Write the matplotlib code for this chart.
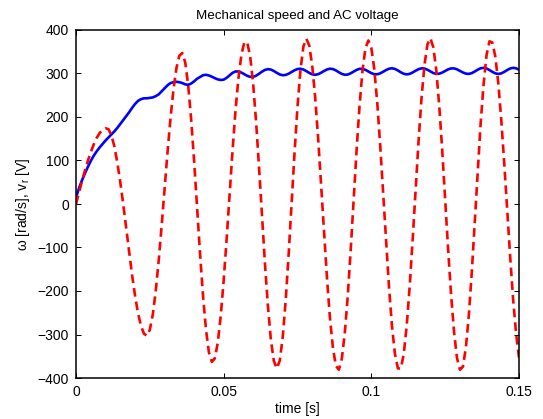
import numpy as np
import matplotlib
matplotlib.use("Agg")
import matplotlib.pyplot as plt

# time axis [s], 1 ms step
t_start, t_stop, t_step = 0.0, 0.150, 0.001

# mechanical speed omega [rad/s] (blue, solid)
speed = [15, 36, 54, 70, 85, 99, 111, 121, 130, 138,
         146, 153, 160, 167, 175, 184, 193, 202, 211, 221,
         230, 237, 241, 243, 243, 244, 245, 248, 252, 259,
         266, 273, 278, 280, 281, 280, 278, 275, 274, 277,
         282, 288, 292, 296, 297, 295.5, 292.7, 289.3, 286.5, 285.1,
         285.9, 290, 295.9, 301.5, 304.7, 304.6, 302.1, 298.3, 294.6, 292.3,
         292.4, 295, 299.5, 304.4, 308.3, 310, 309, 305.7, 301.5, 297.8,
         296, 296.7, 299.5, 303.5, 307.5, 310.3, 310.9, 309.2, 305.5, 301.3,
         298.1, 297, 298.4, 301.8, 305.8, 309.3, 311, 310.2, 307.1, 302.9,
         299.1, 297.1, 297.6, 300.4, 304.4, 308.3, 310.7, 310.7, 308.4, 304.7,
         300.9, 298.4, 298.2, 300.3, 304, 308, 311, 312, 310.5, 306.9,
         302.7, 299.3, 298, 299.2, 302.4, 306.4, 310, 311.9, 311.4, 308.6,
         304.7, 301, 299.1, 299.6, 302.1, 305.9, 309.5, 311.7, 311.7, 309.6,
         306.1, 302.4, 299.7, 299.1, 300.8, 304.5, 308.7, 312, 313, 311.5,
         307.9, 303.7, 300.3, 299, 300.3, 303.7, 307.9, 311.5, 313, 312,
         308.7]

# AC voltage v_r [V] (red, dashed)
voltage = [0, 26, 52, 76, 99, 119, 137, 152, 163, 170,
           174, 172, 158, 132, 95, 50, -1, -56, -111, -164,
           -211, -251, -280, -298, -303, -289, -254, -200, -130, -50,
           35, 120, 197, 263, 312, 341, 347, 325, 272, 194,
           98, -8, -114, -210, -288, -341, -363, -355, -319, -258,
           -176, -81, 21, 122, 214, 289, 343, 372, 371, 338,
           275, 187, 82, -30, -139, -236, -313, -361, -378, -360,
           -306, -222, -116, 1, 118, 224, 308, 362, 380, 364,
           317, 244, 150, 43, -67, -172, -263, -331, -372, -381,
           -356, -298, -213, -107, 9, 123, 225, 306, 358, 376,
           359, 310, 233, 135, 25, -87, -193, -281, -345, -378,
           -378, -344, -278, -188, -81, 34, 146, 244, 320, 367,
           381, 360, 307, 225, 124, 11, -104, -208, -294, -354,
           -381, -374, -331, -257, -158, -44, 73, 184, 275, 342,
           374, 371, 338, 277, 193, 94, -14, -120, -218, -297,
           -353]

x_ticks = [0, 0.05, 0.1, 0.15]
x_tick_labels = ["0", "0.05", "0.1", "0.15"]
y_ticks = [-400, -300, -200, -100, 0, 100, 200, 300, 400]

title_text = "Mechanical speed and AC voltage"
x_label = "time [s]"
y_label = "ω [rad/s], v$_\\mathregular{r}$ [V]"

plt.rcParams["font.family"] = ["Liberation Sans", "DejaVu Sans"]
plt.rcParams["mathtext.fontset"] = "custom"
plt.rcParams["mathtext.rm"] = "Liberation Sans"
plt.rcParams["mathtext.it"] = "Liberation Sans:italic"

t = np.arange(len(speed)) * t_step + t_start

fig = plt.figure(figsize=(5.43, 4.19), dpi=100)
ax = fig.add_axes([76 / 543, 1 - 378 / 419, (519 - 76) / 543, (378 - 30) / 419])

ax.plot(t, speed, color=(0, 0, 1), linewidth=1.9, solid_capstyle="round")
ax.plot(t, voltage, color=(1, 0, 0), linewidth=1.9, linestyle=(0, (3.3, 1.9)))

ax.set_xlim(t_start, t_stop)
ax.set_ylim(-400, 400)
ax.set_xticks(x_ticks)
ax.set_xticklabels(x_tick_labels)
ax.set_yticks(y_ticks)

ax.tick_params(direction="in", length=3.5, width=0.7, top=True, right=True,
               labelsize=10, colors="black")
ax.tick_params(axis="x", pad=5)
ax.tick_params(axis="y", pad=5)
for s in ax.spines.values():
    s.set_linewidth(1.1)
    s.set_color("black")

ax.set_title(title_text, fontsize=9.6, pad=8)
ax.set_xlabel(x_label, fontsize=10, labelpad=2)
ax.set_ylabel(y_label, fontsize=10, labelpad=4)

fig.savefig("out.png", dpi=100)
